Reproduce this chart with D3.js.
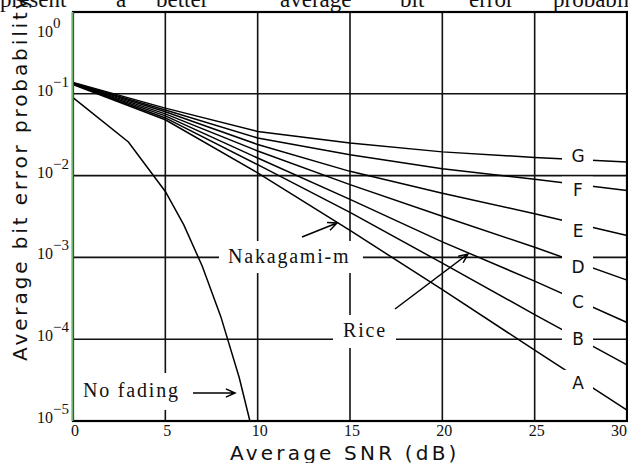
<!DOCTYPE html>
<html lang="en">
<head>
<meta charset="UTF-8">
<style>
  html, body { margin: 0; padding: 0; background: #fff; }
  svg { display: block; }
  .serif { font-family: "Liberation Serif", "Times New Roman", serif; fill: #111; }
  .sans { font-family: "DejaVu Sans", sans-serif; fill: #111; }
</style>
<script src="https://d3js.org/d3.v7.min.js"></script>
</head>
<body>
<svg id="chart" width="628" height="463"></svg>
<script>
const snrDb = [0, 5, 10, 15, 20, 25, 30];
const curveNames = ["A", "B", "C", "D", "E", "F", "G"];
const curveA = [0.130, 0.0482, 0.0108, 0.00214, 0.000403, 0.0000735, 0.0000136];
const curveB = [0.132, 0.0507, 0.0136, 0.00355, 0.000851, 0.000200, 0.0000486];
const curveC = [0.133, 0.0537, 0.0164, 0.00513, 0.00155, 0.000512, 0.000160];
const curveD = [0.134, 0.0569, 0.0200, 0.00776, 0.00318, 0.00133, 0.000528];
const curveE = [0.135, 0.0603, 0.0240, 0.01127, 0.00610, 0.00342, 0.00185];
const curveF = [0.136, 0.0634, 0.0288, 0.0180, 0.0121, 0.00902, 0.00656];
const curveG = [0.138, 0.0668, 0.0347, 0.0251, 0.0195, 0.0167, 0.0147];
const curves = [curveA, curveB, curveC, curveD, curveE, curveF, curveG];

// AWGN (no fading) curve
const noFadeSnr = [0, 3, 5, 6, 7, 8, 9, 9.58];
const noFadeBer = [0.090, 0.0258, 0.0064, 0.0025, 0.00078, 0.00019, 0.000034, 0.00001];

const xTicks = [0, 5, 10, 15, 20, 25, 30];
const yExps = [0, -1, -2, -3, -4, -5];

// words of the cut-off body text line above the figure
const bodyWords = ["present", "a", "better", "average", "bit", "error", "probabilit"];
const bodyWordX = [0, 116, 156, 280, 400, 469, 553];

const svg = d3.select("#chart");
const x = d3.scaleLinear().domain([0, 30]).range([73, 627]);
const y = d3.scaleLog().domain([1e-5, 1]).range([421, 12]);

// body text line (only its lower part is visible)
svg.selectAll(".body-word")
  .data(bodyWords)
  .enter()
  .append("text")
  .attr("class", "serif")
  .attr("x", (d, i) => bodyWordX[i])
  .attr("y", 7)
  .attr("font-size", "23px")
  .text(d => d);

// grid
const grid = svg.append("g").attr("stroke", "#111").attr("stroke-width", 1.6);
grid.selectAll(".vg")
  .data(xTicks.slice(1, -1))
  .enter()
  .append("line")
  .attr("x1", d => x(d)).attr("x2", d => x(d))
  .attr("y1", y(1)).attr("y2", y(1e-5));
grid.selectAll(".hg")
  .data(yExps.slice(1, -1))
  .enter()
  .append("line")
  .attr("x1", x(0)).attr("x2", x(30))
  .attr("y1", d => y(Math.pow(10, d))).attr("y2", d => y(Math.pow(10, d)));

// curves
const line = d3.line().x(d => x(d[0])).y(d => y(d[1]));
svg.append("g")
  .selectAll("path")
  .data(curves)
  .enter()
  .append("path")
  .attr("fill", "none")
  .attr("stroke", "#000")
  .attr("stroke-width", 1.5)
  .attr("d", c => line(snrDb.map((s, i) => [s, c[i]])));

svg.append("path")
  .attr("fill", "none")
  .attr("stroke", "#000")
  .attr("stroke-width", 1.5)
  .attr("d", line(noFadeSnr.map((s, i) => [s, noFadeBer[i]])));

// curve letters at the right, with a gap cut in the lines
const labelNudge = [4, 0, 1, 4, 7, 5, -4];
const labelAt = 27.4;
curves.forEach((c, i) => {
  const logAt = d3.scaleLinear().domain(snrDb).range(c.map(v => Math.log10(v)));
  const cy = y(Math.pow(10, logAt(labelAt))) + labelNudge[i];
  svg.append("rect")
    .attr("x", 562).attr("y", cy - 13)
    .attr("width", 31).attr("height", 24)
    .attr("fill", "#fff");
  svg.append("text")
    .attr("class", "sans")
    .attr("font-family", "Liberation Sans, Arial, sans-serif")
    .attr("x", 578).attr("y", cy + 6)
    .attr("text-anchor", "middle")
    .attr("font-size", "17px")
    .text(curveNames[i]);
});

// annotations
function note(txt, tx, ty, box) {
  svg.append("rect")
    .attr("x", box[0]).attr("y", box[1])
    .attr("width", box[2] - box[0]).attr("height", box[3] - box[1])
    .attr("fill", "#fff");
  svg.append("text")
    .attr("class", "serif")
    .attr("x", tx).attr("y", ty)
    .attr("font-size", "20px")
    .attr("letter-spacing", "1.8px")
    .text(txt);
}
function arrow(x1, y1, x2, y2) {
  const a = Math.atan2(y2 - y1, x2 - x1), L = 10, s = 0.42;
  const p = d3.path();
  p.moveTo(x1, y1); p.lineTo(x2, y2);
  p.moveTo(x2 - L * Math.cos(a - s), y2 - L * Math.sin(a - s));
  p.lineTo(x2, y2);
  p.lineTo(x2 - L * Math.cos(a + s), y2 - L * Math.sin(a + s));
  svg.append("path").attr("d", p.toString())
    .attr("fill", "none").attr("stroke", "#000").attr("stroke-width", 1.5);
}

note("Nakagami-m", 228, 263, [219, 241, 363, 273]);
note("Rice", 343, 337, [333, 315, 396, 348]);
note("No fading", 83, 397, [78, 373, 185, 410]);
arrow(302, 237, 337, 223);
arrow(395, 309, 468, 254);
arrow(193, 393, 235, 393);

// frame
svg.append("rect")
  .attr("x", x(0)).attr("y", y(1))
  .attr("width", x(30) - x(0)).attr("height", y(1e-5) - y(1))
  .attr("fill", "none").attr("stroke", "#000").attr("stroke-width", 2.2);
svg.append("line")
  .attr("x1", x(0) - 0.5).attr("x2", x(0) - 0.5)
  .attr("y1", y(1)).attr("y2", y(1e-5))
  .attr("stroke", "#6fb46f").attr("stroke-width", 2);

// x tick labels
svg.selectAll(".xt")
  .data(xTicks)
  .enter()
  .append("text")
  .attr("class", "serif")
  .attr("x", d => d === 30 ? 627 : x(d) + 2)
  .attr("y", 436)
  .attr("text-anchor", d => d === 30 ? "end" : "middle")
  .attr("font-size", "16px")
  .text(d => d);

// y tick labels 10^n
const yt = svg.selectAll(".yt")
  .data(yExps)
  .enter()
  .append("text")
  .attr("class", "serif")
  .attr("x", 37)
  .attr("y", d => d === 0 ? 37 : y(Math.pow(10, d)) + 2)
  .attr("font-size", "16px");
yt.append("tspan").text("10");
yt.append("tspan")
  .attr("dy", -9)
  .attr("font-size", "15px")
  .text(d => d === 0 ? "0" : "\u2212" + (-d));

// axis titles
svg.append("text")
  .attr("class", "sans")
  .attr("x", 230).attr("y", 460)
  .attr("font-size", "20px")
  .attr("letter-spacing", "3.2px")
  .text("Average SNR (dB)");

svg.append("text")
  .attr("class", "sans")
  .attr("transform", "translate(27,361) rotate(-90)")
  .attr("font-size", "20px")
  .attr("letter-spacing", "2.9px")
  .text("Average bit error probability");
</script>
</body>
</html>
